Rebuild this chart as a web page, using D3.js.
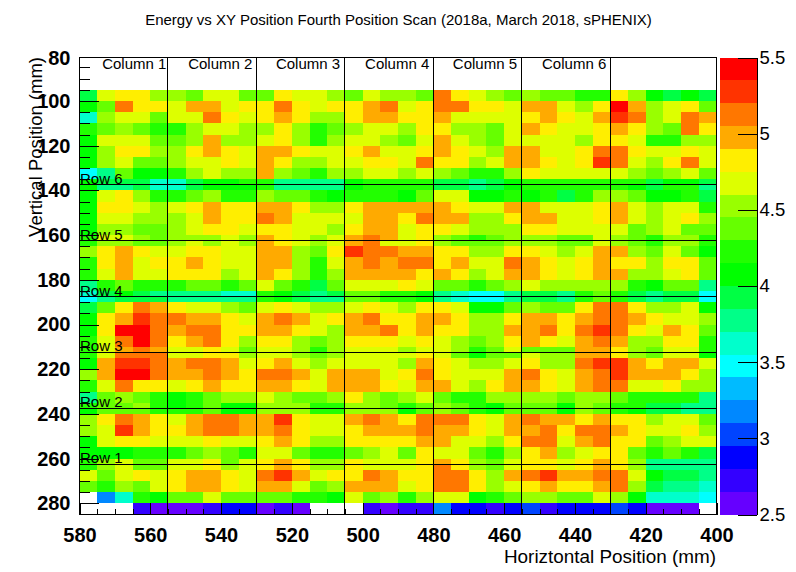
<!DOCTYPE html>
<html lang="en">
	<head>
		<meta charset="utf-8">
		<title>Energy vs XY Position Fourth Position Scan</title>
		<script type="text/javascript" src="https://d3js.org/d3.v7.min.js"></script>
		<style type="text/css">
			body { margin: 0; background: #fff; }
			svg { display: block; font-family: "Liberation Sans", sans-serif; }
			.cell, .bar { shape-rendering: crispEdges; }
			.tick line, .domain, .guide, .frame { shape-rendering: crispEdges; }
		</style>
	</head>
	<body>
		<script type="text/javascript">

			//Width and height
			var w = 796;
			var h = 572;

			//Horizontal bin edges start at 580 and go down in 5 mm steps
			var colStarts = d3.range(580, 400, -5);

			//Vertical bin edges (mm), the rows on a tower boundary are cut in two
			var rowEdges = [95, 100, 105, 110, 115, 120, 125, 130, 135, 137.5, 140, 145, 150, 155, 160, 162.5, 165, 170, 175, 180, 185, 187.5, 190, 195, 200, 205, 210, 212.5, 215, 220, 225, 230, 235, 237.5, 240, 245, 250, 255, 260, 262.5, 265, 270, 275, 280, 285];

			//Energy per cell, one line per row, left to right (null = no entry)
			var energy = [
				[3.9,4.7,4.8,4.8,4.5,4.5,4.4,4.7,4.7,4.4,4.4,4.8,4.7,4.7,4.5,4.4,4.7,4.5,4.5,4.4,5.1,4.8,4.7,4.5,4.4,4.5,4.4,4.4,4.2,4.2,4.8,4.5,4.1,3.9,4.1,3.9],
				[4.1,4.4,5.1,4.8,4.8,4.7,5,5,4.7,4.8,4.8,5.1,4.8,4.7,4.8,4.8,5,5.1,4.7,4.8,5.1,5.1,4.8,4.8,4.7,5,5,4.7,4.5,4.8,5.4,5,4.5,4.7,4.8,4.4],
				[3.6,4.5,4.7,4.7,4.4,4.7,4.7,5.1,4.8,4.7,4.8,5,4.8,4.5,4.5,4.8,5,5,4.8,4.8,5,4.7,4.7,4.7,4.7,4.8,5,4.8,4.7,5,5.3,5.1,4.5,4.7,5.1,5],
				[4.2,4.4,4.5,4.4,4.2,4.2,4.5,4.7,4.7,4.5,4.5,4.8,4.5,4.2,4.4,4.5,4.7,4.7,4.5,4.8,4.8,4.5,4.5,4.4,4.7,5,4.8,4.7,4.7,4.8,5,4.8,4.5,4.4,5.1,4.8],
				[4.1,4.7,4.7,4.7,4.4,4.4,4.5,5,4.5,4.5,4.7,4.8,4.5,4.2,4.5,4.7,4.7,4.5,4.4,4.7,5,4.7,4.5,4.4,4.7,4.7,4.7,4.7,4.5,4.8,4.8,4.7,4.2,4.2,4.5,4.5],
				[4.1,4.5,4.8,4.8,4.5,4.5,4.8,5,4.8,4.7,5,5,4.8,4.7,4.7,4.8,5,4.7,4.7,4.8,5,4.8,4.7,4.5,5,5,4.7,4.7,4.8,5.1,5.1,4.8,4.7,4.7,4.8,4.7],
				[4.1,4.5,4.7,4.4,4.4,4.5,4.7,4.7,4.8,4.7,5,4.8,4.5,4.5,4.7,4.7,4.8,4.8,4.7,5.1,4.8,4.8,4.5,4.7,5,5,4.8,4.7,4.8,5.3,5.1,4.7,4.5,4.8,5.1,4.7],
				[3.5,3.8,4.4,4.1,4.1,4.2,4.5,4.7,4.5,4.5,5,4.5,4.4,4.2,4.5,4.5,4.7,4.7,4.5,4.7,4.5,4.4,4.2,4.2,4.5,4.8,4.7,4.7,4.7,4.7,4.7,4.5,4.4,4.5,4.7,4.4],
				[4.1,3.9,3.9,3.9,3.6,3.6,3.9,4.1,4.1,4.2,4.2,3.8,3.8,3.8,3.8,4.1,4.2,4.2,4.2,4.2,3.9,3.9,3.8,3.9,4.1,4.2,4.2,4.2,4.2,4.2,4.2,4.2,3.9,4.1,4.1,3.9],
				[4.1,3.8,3.8,3.9,3.6,3.6,3.9,4.1,4.1,4.1,4.2,3.8,3.8,3.8,3.8,4.1,4.2,4.2,4.2,4.2,3.9,3.9,3.8,3.9,4.1,4.2,4.2,4.2,4.2,4.2,4.2,4.1,3.9,4.2,4.2,3.8],
				[4.1,4.7,4.8,4.5,4.2,4.2,4.4,4.5,4.2,4.2,4.5,4.4,4.4,4.2,4.1,4.2,4.2,4.2,4.1,4.4,4.7,4.7,4.1,4.1,4.2,4.1,4.2,3.9,4.2,4.5,4.5,4.4,4.1,4.1,4.2,3.9],
				[4.1,4.8,4.8,4.7,4.5,4.7,4.8,5,4.8,4.8,5,5,4.8,4.5,4.5,4.8,5,5,5,5,5,4.8,4.7,4.7,5,5,4.7,4.7,4.7,4.8,5,4.7,4.5,4.7,4.7,4.2],
				[4.1,4.7,4.7,4.5,4.5,4.5,4.7,5,4.8,4.8,5.1,5,4.7,4.7,4.7,4.7,5,5,4.8,5.1,5,5,4.5,4.5,4.8,5,5,4.7,4.7,4.8,5,4.7,4.5,4.7,4.8,4.5],
				[4.1,4.5,4.5,4.4,4.4,4.5,4.7,4.8,4.8,4.7,4.8,4.8,4.7,4.7,4.5,4.8,5,5,4.7,4.8,4.8,4.7,4.5,4.5,4.5,4.8,4.8,4.7,4.7,4.7,4.7,4.4,4.5,4.7,4.4,4.4],
				[4.2,4.7,4.7,4.5,4.4,4.5,4.5,4.5,4.7,4.5,5,4.8,4.7,4.5,4.7,5,5.1,5,4.7,4.8,4.5,4.4,4.2,4.4,4.5,4.5,4.5,4.4,4.4,4.7,4.5,4.4,4.2,4.5,4.5,4.2],
				[4.2,4.5,4.5,4.4,4.4,4.5,4.7,4.5,4.7,4.5,5,4.8,4.7,4.5,4.7,5,5.1,4.7,4.7,4.8,4.5,4.4,4.4,4.4,4.5,4.5,4.5,4.4,4.4,4.7,4.5,4.4,4.2,4.5,4.5,4.2],
				[4.5,4.8,5,4.8,4.7,4.7,4.8,4.8,4.7,4.7,5,5,4.5,4.4,4.8,5.3,5.1,5.1,5,5,4.8,4.8,4.5,4.5,4.8,4.8,4.7,4.5,4.7,5,5,4.5,4.4,4.7,4.4,4.1],
				[4.2,4.8,5,4.7,4.8,4.8,5,4.8,4.7,4.7,5,5,4.5,4.2,4.7,5,5.1,5,5.1,5.1,4.8,5,4.7,4.7,5.1,5,4.8,4.7,4.8,5,4.8,4.8,4.5,4.8,4.8,4.4],
				[4.2,4.7,5,4.7,4.7,4.8,4.8,4.8,4.5,4.7,5,4.8,4.5,4.2,4.5,5,5,5,5,4.8,5,4.8,4.5,4.7,5,5,4.8,4.7,4.8,5,5,4.5,4.5,4.7,4.8,4.4],
				[3.8,4.2,4.4,4.2,4.2,4.2,4.4,4.4,4.2,4.4,4.7,4.4,4.2,3.9,4.4,4.7,4.7,4.7,4.8,4.7,4.4,4.4,4.2,4.4,4.5,4.7,4.5,4.5,4.5,4.5,4.5,4.2,4.1,4.4,4.4,3.8],
				[3.6,3.9,4.1,3.9,3.8,3.8,3.8,3.8,3.6,3.6,4.2,4.1,3.9,3.8,3.9,4.4,4.4,4.2,4.2,4.1,3.8,3.6,3.5,3.5,3.8,3.9,3.9,3.8,4.2,4.4,4.2,3.9,3.8,3.9,3.9,3.5],
				[3.5,3.8,3.9,3.9,3.9,3.8,3.8,3.8,3.8,3.8,4.2,4.1,3.9,3.8,3.8,4.4,4.4,4.2,4.2,4.1,3.8,3.6,3.5,3.5,3.8,3.9,3.9,3.8,4.2,4.4,4.2,3.9,3.8,3.9,3.9,3.5],
				[3.9,4.4,4.8,5.1,5,4.8,4.7,4.7,4.5,4.4,4.7,4.8,4.7,4.5,4.5,4.7,4.8,4.7,4.5,4.8,4.8,4.7,4.1,4.1,4.4,4.5,4.4,4.4,4.8,5.1,5.1,4.8,4.5,4.5,4.7,4.1],
				[4.1,4.8,5,5.3,5.1,5.1,5,5,4.8,4.7,5,5.1,5,4.7,4.8,5,5.1,4.8,4.8,5,5,4.8,4.5,4.5,4.8,5,5,4.8,5,5.1,5.1,5,4.8,4.7,4.7,4.5],
				[4.1,4.8,5.4,5.4,5.1,5,5.1,5.1,4.8,4.8,5,5,4.8,4.7,4.5,5,5,5.1,4.8,5,4.8,4.8,4.5,4.5,5,5,5.1,4.8,5.1,5.3,5.1,4.8,4.7,5,4.8,4.4],
				[4.2,4.7,5.1,5.4,5.1,4.8,5,5.1,4.8,4.5,4.8,4.8,4.5,4.4,4.5,4.8,4.8,4.8,4.7,4.8,4.7,4.5,4.4,4.5,4.8,5,4.8,4.7,5,5.1,5,4.5,4.5,4.8,4.8,4.2],
				[4.2,4.7,5,5.1,5,4.7,4.7,4.8,4.7,4.4,4.7,4.7,4.5,4.2,4.5,4.7,4.7,4.7,4.5,4.7,4.7,4.5,4.2,4.4,4.7,4.4,4.4,4.4,5,5,4.8,4.5,4.4,4.7,4.7,4.2],
				[4.2,4.7,5.1,5.1,5.1,4.7,4.7,4.8,4.8,4.5,4.7,4.7,4.5,4.4,4.5,4.7,4.7,4.7,4.7,4.8,4.7,4.4,4.1,4.4,4.4,4.7,4.5,4.5,5,5,4.8,4.5,4.4,4.7,4.7,4.1],
				[4.1,5,5.3,5.3,5.1,5,5.1,5.1,5,4.7,4.8,5,4.7,4.5,4.7,4.7,4.7,4.7,4.5,5,4.8,4.7,4.5,4.5,4.7,4.8,4.5,4.5,5.1,5.3,5.3,5,4.8,5,5,4.7],
				[4.5,5,5.4,5.4,5.1,5,5,5.1,5,4.8,5.1,5.1,5,4.7,5,5,5,4.7,4.8,5.1,4.8,4.7,4.7,4.7,5,5.1,4.8,4.7,5,5.1,5.3,5,5,5,4.8,4.5],
				[4.2,4.7,5.1,4.8,4.8,4.7,4.8,5,4.8,4.8,5,5,4.8,4.7,5,5,5,4.8,4.7,5,5,4.7,4.5,4.8,5,5,4.8,4.7,5,5.1,5.1,4.7,4.7,4.8,4.5,4.5],
				[3.8,4.4,4.5,4.4,4.2,4.1,4.2,4.4,4.5,4.5,4.7,4.5,4.4,4.4,4.5,4.8,4.5,4.4,4.5,4.7,4.4,4.2,4.2,4.5,4.5,4.5,4.5,4.4,4.5,4.5,4.4,4.2,4.2,4.2,4.2,3.8],
				[4.2,4.4,4.4,4.5,4.2,4.1,4.2,4.4,4.1,4.1,4.5,4.5,4.5,4.2,4.2,4.5,4.5,4.4,4.2,4.4,4.5,4.4,4.2,4.1,4.4,4.4,4.4,4.1,4.5,4.4,4.2,4.2,3.9,3.9,3.8,3.8],
				[4.1,4.4,4.4,4.4,4.2,4.2,4.2,4.4,4.1,4.1,4.5,4.5,4.5,4.2,4.2,4.5,4.5,4.5,4.1,4.4,4.5,4.4,4.2,4.1,4.4,4.4,4.4,4.1,4.5,4.4,4.2,4.1,3.9,3.9,3.8,3.8],
				[4.5,4.8,5.1,5,4.8,4.7,5,5.1,5.1,5,5,5.3,4.8,4.7,4.7,5,5.1,5,4.8,5.1,5.1,5.1,4.8,4.7,5,5.1,5,5,4.8,5,4.8,4.8,4.5,4.7,4.7,4.4],
				[4.5,4.7,5.3,5,4.8,4.8,5,5.1,5.1,5,5,5.1,4.8,4.7,4.7,4.8,5,5,5,5.1,5,5,4.8,4.7,5,5,5.1,4.8,5.1,5.1,5,4.8,4.7,4.7,4.8,4.5],
				[4.1,4.7,4.8,4.8,4.7,4.7,4.7,4.8,4.7,4.7,4.8,5,4.8,4.5,4.5,4.8,4.8,4.8,4.8,5,5,4.7,4.7,4.5,4.8,5.1,5.1,4.7,5,5.1,4.8,4.8,4.4,4.5,4.7,4.7],
				[4.1,4.1,4.1,4.2,4.2,4.2,4.4,4.5,4.4,4.2,4.7,4.7,4.4,4.2,4.2,4.4,4.5,4.7,4.4,4.8,4.7,4.7,4.4,4.2,4.5,4.8,5,4.5,4.7,4.8,4.8,4.4,4.2,4.4,4.2,3.9],
				[4.2,4.5,4.7,4.4,4.4,4.7,4.7,4.8,4.4,4.7,4.8,5,4.8,4.5,4.5,4.8,4.7,4.7,4.7,4.8,5,4.8,4.5,4.4,4.7,4.8,4.8,4.7,4.8,5,4.8,4.5,3.8,3.8,3.8,3.8],
				[4.2,4.5,4.7,4.4,4.4,4.7,4.7,4.8,4.5,4.7,4.8,5,4.8,4.5,4.5,4.8,4.7,4.7,4.7,4.8,5.1,4.8,4.5,4.4,4.7,4.8,4.8,4.7,4.8,5,4.8,4.5,3.8,3.8,3.8,3.8],
				[4.7,4.4,4.7,4.8,4.7,4.8,5,5,4.8,4.7,5.1,5.3,5,4.7,4.8,4.8,5.1,5,4.8,4.8,5.1,5.1,4.8,4.5,5,5.1,5.3,5,5,5.1,5.1,4.7,4.1,3.9,3.9,3.8],
				[4.4,4.2,4.5,4.4,4.7,4.8,5,5,4.8,4.7,5,5,4.7,4.4,4.5,5,5,5,4.7,4.8,5.1,5.1,4.8,4.5,4.7,4.8,5,4.8,4.8,5,5.1,4.5,3.9,3.8,3.8,3.6],
				[null,3.2,3.6,4.2,4.1,4.4,4.4,4.7,4.4,4.4,4.4,4.4,4.2,4.2,4.1,4.7,4.4,4.5,4.2,4.5,4.7,4.7,4.1,4.2,4.4,4.5,4.5,4.4,4.4,4.7,4.5,4.1,3.6,3.6,3.6,3.5],
				[null,null,null,2.7,2.6,2.6,2.6,2.7,2.9,2.9,2.6,2.7,2.6,null,null,null,2.7,2.6,2.7,2.7,3.2,2.9,2.9,2.7,2.9,3,2.7,2.9,2.9,2.9,3,2.9,2.6,2.6,2.6,null]
			];

			//Palette of the colour bar, low to high
			var palette = ["#6600ff", "#3300ff", "#0000ff", "#0044ff", "#0088ff", "#00bbff", "#00ffff", "#00ffcc", "#00ff88", "#00ff44", "#00ff00", "#22ff00", "#66ff00", "#99ff00", "#ddff00", "#ffee00", "#ffaa00", "#ff7700", "#ff3300", "#ff0000"];

			//Tower guide lines and their names
			var columnLines = [555, 530, 505, 480, 455, 430];
			var columnNames = ["Column 1", "Column 2", "Column 3", "Column 4", "Column 5", "Column 6"];
			var columnNameAt = [573.6, 549.3, 524.5, 499.3, 474.5, 449.3];	//mm, where each name starts
			var rowLines = [137.5, 162.5, 187.5, 212.5, 237.5, 262.5];
			var rowNames = ["Row 6", "Row 5", "Row 4", "Row 3", "Row 2", "Row 1"];

			//Tick values
			var xMajor = d3.range(580, 399, -20);
			var xMinor = d3.range(575, 400, -5);
			var yMajor = d3.range(80, 281, 20);
			var yMinor = d3.range(85, 285, 5);
			var zTicks = [2.5, 3, 3.5, 4, 4.5, 5, 5.5];

			//Plot frame
			var left = 79.5, right = 716.5, top_ = 57.5, bottom = 514.5;

			//Create scale functions
			var xScale = d3.scaleLinear().domain([580, 400]).range([left, right]);
			//80 sits a hair above the frame top in the original
			var yScale = d3.scaleLinear().domain([80, 285]).range([56.3, bottom]);
			var zScale = d3.scaleLinear().domain([2.5, 5.5]).range([bottom, top_]);
			var colour = d3.scaleQuantize().domain([2.5, 5.5]).range(palette);

			//Create SVG element
			var svg = d3.select("body")
						.append("svg")
						.attr("width", w)
						.attr("height", h);

			//Flatten the matrix into cells
			var cells = [];
			energy.forEach(function(row, r) {
				row.forEach(function(v, c) {
					if (v !== null) cells.push({ r: r, c: c, v: v });
				});
			});

			//Create cells
			svg.selectAll("rect.cell")
			   .data(cells)
			   .enter()
			   .append("rect")
			   .attr("class", "cell")
			   .attr("x", function(d) { return xScale(colStarts[d.c]); })
			   .attr("width", function(d) { return xScale(colStarts[d.c] - 5) - xScale(colStarts[d.c]); })
			   .attr("y", function(d) { return yScale(rowEdges[d.r]); })
			   .attr("height", function(d) { return yScale(rowEdges[d.r + 1]) - yScale(rowEdges[d.r]); })
			   .attr("fill", function(d) { return colour(d.v); });

			//Guide lines
			svg.selectAll("line.vguide")
			   .data(columnLines)
			   .enter()
			   .append("line")
			   .attr("class", "guide vguide")
			   .attr("x1", function(d) { return xScale(d); })
			   .attr("x2", function(d) { return xScale(d); })
			   .attr("y1", top_)
			   .attr("y2", bottom)
			   .attr("stroke", "black");

			svg.selectAll("line.hguide")
			   .data(rowLines)
			   .enter()
			   .append("line")
			   .attr("class", "guide hguide")
			   .attr("x1", left)
			   .attr("x2", right)
			   .attr("y1", function(d) { return yScale(d); })
			   .attr("y2", function(d) { return yScale(d); })
			   .attr("stroke", "black");

			//Frame
			svg.append("rect")
			   .attr("class", "frame")
			   .attr("x", left)
			   .attr("y", top_)
			   .attr("width", right - left)
			   .attr("height", bottom - top_)
			   .attr("fill", "none")
			   .attr("stroke", "black");

			//Minor and major ticks point into the plot
			function noDomain(g) { g.select(".domain").remove(); }

			svg.append("g")
				.attr("transform", "translate(0," + bottom + ")")
				.call(d3.axisBottom(xScale).tickValues(xMinor).tickSize(-6).tickFormat(""))
				.call(noDomain);

			svg.append("g")
				.attr("class", "xaxis")
				.attr("transform", "translate(0," + bottom + ")")
				.call(d3.axisBottom(xScale).tickValues(xMajor).tickSize(-12).tickPadding(13).tickFormat(d3.format("d")))
				.call(noDomain);

			svg.append("g")
				.attr("transform", "translate(" + left + ",0)")
				.call(d3.axisLeft(yScale).tickValues(yMinor).tickSize(-10).tickFormat(""))
				.call(noDomain);

			svg.append("g")
				.attr("class", "yaxis")
				.attr("transform", "translate(" + left + ",0)")
				.call(d3.axisLeft(yScale).tickValues(yMajor).tickSize(-19).tickPadding(9).tickFormat(d3.format("d")))
				.call(noDomain);

			svg.selectAll(".xaxis text, .yaxis text")
				.attr("font-family", "Liberation Sans")
				.attr("font-size", 20)
				.attr("font-weight", "bold")
				.attr("fill", "black");

			//the 80 tick itself is above the frame, keep only its label
			svg.selectAll(".yaxis .tick")
				.filter(function(d) { return d === 80; })
				.call(function(t) {
					t.select("line").remove();
					t.select("text").attr("y", 1.5);
				});

			//Colour bar
			var zBins = d3.range(palette.length);
			var zStep = 3 / palette.length;
			svg.selectAll("rect.bar")
			   .data(zBins)
			   .enter()
			   .append("rect")
			   .attr("class", "bar")
			   .attr("x", 720)
			   .attr("width", 36.5)
			   .attr("y", function(d) { return zScale(2.5 + (d + 1) * zStep); })
			   .attr("height", function(d) { return zScale(2.5 + d * zStep) - zScale(2.5 + (d + 1) * zStep); })
			   .attr("fill", function(d) { return palette[d]; });

			svg.append("g")
				.attr("class", "zaxis")
				.attr("transform", "translate(756.5,0)")
				.call(d3.axisRight(zScale).tickValues(zTicks).tickSize(-19).tickSizeOuter(0).tickPadding(3).tickFormat(d3.format("")));

			svg.selectAll(".zaxis text")
				.attr("font-family", "Liberation Sans")
				.attr("font-size", 18.5)
				.attr("fill", "black");

			//Column and row names
			svg.selectAll("text.colname")
			   .data(columnNames)
			   .enter()
			   .append("text")
			   .attr("class", "colname")
			   .attr("x", function(d, i) { return xScale(columnNameAt[i]); })
			   .attr("y", 69)
			   .attr("font-size", 15)
			   .text(function(d) { return d; });

			svg.selectAll("text.rowname")
			   .data(rowNames)
			   .enter()
			   .append("text")
			   .attr("class", "rowname")
			   .attr("x", 80)
			   .attr("y", function(d, i) { return yScale(rowLines[i]) - 1; })
			   .attr("font-size", 15)
			   .text(function(d) { return d; });

			//Titles
			svg.append("text")
			   .attr("x", 398.5)
			   .attr("y", 25)
			   .attr("text-anchor", "middle")
			   .attr("font-size", 15)
			   .text("Energy vs XY Position Fourth Position Scan (2018a, March 2018, sPHENIX)");

			svg.append("text")
			   .attr("x", 716)
			   .attr("y", 563)
			   .attr("text-anchor", "end")
			   .attr("font-size", 18.9)
			   .text("Horiztontal Position (mm)");

			svg.append("text")
			   .attr("transform", "translate(42,57) rotate(-90)")
			   .attr("text-anchor", "end")
			   .attr("font-size", 18.5)
			   .text("Vertical Position (mm)");

		</script>
	</body>
</html>
